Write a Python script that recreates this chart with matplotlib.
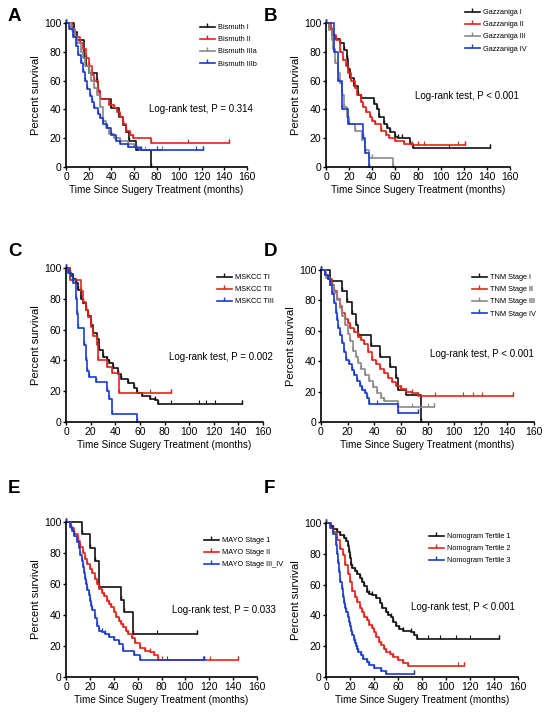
import numpy as np
import matplotlib
matplotlib.use("Agg")
import matplotlib.pyplot as plt

plt.rcParams['font.family'] = ['Liberation Sans', 'DejaVu Sans']

# ---- A: Bismuth ----
bis1_t = [0, 7, 10, 16, 18, 20, 27, 28, 30, 40, 47, 50, 53, 56, 62, 75]
bis1_s = [100, 94, 88, 76, 70, 65, 59, 53, 47, 41, 35, 29, 24, 18, 12, 0]
bis2_t = [0, 5, 8, 12, 15, 18, 20, 23, 25, 28, 30, 38, 42, 45, 48, 50, 53, 57, 59, 75, 144]
bis2_s = [100, 95, 90, 86, 82, 76, 70, 64, 60, 52, 47, 43, 41, 38, 35, 30, 25, 22, 20, 17, 17]
bis2_c = [108, 144]
bis3a_t = [0, 4, 8, 10, 13, 15, 17, 20, 22, 25, 27, 30, 33, 35, 38, 42, 48, 55, 60, 65, 85]
bis3a_s = [100, 96, 90, 86, 80, 76, 70, 65, 60, 55, 50, 42, 32, 27, 23, 20, 18, 16, 14, 12, 12]
bis3a_c = [70, 80, 85]
bis3b_t = [0, 3, 6, 9, 11, 13, 15, 17, 19, 21, 23, 25, 28, 30, 33, 36, 40, 44, 48, 55, 62, 66, 121]
bis3b_s = [100, 96, 90, 84, 78, 72, 66, 60, 54, 49, 45, 41, 37, 34, 30, 27, 22, 18, 16, 14, 13, 12, 12]
bis3b_c = [80, 115, 121]

# ---- B: Gazzaniga ----
gaz1_t = [0, 3, 5, 8, 12, 16, 18, 19, 21, 24, 28, 30, 42, 44, 46, 50, 53, 56, 60, 63, 66, 73, 76, 143]
gaz1_s = [100, 96, 92, 89, 86, 81, 75, 68, 62, 56, 50, 48, 44, 40, 35, 30, 27, 24, 21, 20, 20, 16, 13, 13]
gaz1_c = [107, 143]
gaz2_t = [0, 4, 6, 9, 12, 15, 17, 19, 22, 25, 27, 30, 32, 35, 38, 40, 43, 48, 52, 55, 60, 68, 75, 80, 121]
gaz2_s = [100, 96, 92, 88, 80, 74, 70, 65, 60, 55, 50, 45, 42, 38, 35, 32, 30, 25, 22, 20, 18, 16, 15, 15, 15]
gaz2_c = [85, 115, 121]
gaz3_t = [0, 3, 5, 6, 8, 10, 12, 14, 16, 18, 20, 25, 31, 34, 37, 40, 58]
gaz3_s = [100, 95, 88, 82, 72, 65, 58, 50, 42, 35, 30, 25, 19, 12, 6, 6, 0]
gaz4_t = [0, 7, 10, 14, 19, 32, 34, 37]
gaz4_s = [100, 80, 60, 40, 30, 20, 10, 0]

# ---- C: MSKCC ----
msk1_t = [0, 3, 6, 8, 10, 12, 14, 16, 18, 20, 22, 25, 27, 30, 33, 35, 38, 42, 45, 50, 55, 58, 62, 68, 72, 75, 143]
msk1_s = [100, 96, 93, 90, 86, 80, 77, 73, 69, 63, 58, 54, 47, 42, 40, 38, 35, 31, 28, 25, 22, 19, 17, 15, 14, 12, 12]
msk1_c = [85, 108, 114, 121, 143]
msk2_t = [0, 3, 12, 14, 16, 18, 20, 22, 25, 26, 33, 37, 43, 85]
msk2_s = [100, 92, 85, 78, 73, 68, 62, 56, 50, 40, 36, 32, 19, 19]
msk2_c = [68, 85]
msk3_t = [0, 2, 4, 6, 8, 9, 10, 15, 16, 17, 19, 24, 33, 35, 37, 58]
msk3_s = [100, 97, 95, 90, 80, 70, 61, 50, 40, 33, 29, 26, 20, 15, 5, 0]

# ---- D: TNM ----
tnm1_t = [0, 7, 16, 19.5, 23, 26, 28, 37.5, 44, 52, 56, 58, 64, 75]
tnm1_s = [100, 93, 86, 79, 71, 64, 57, 50, 43, 36, 29, 21, 18, 0]
tnm2_t = [0, 3, 5, 8, 10, 12, 14, 16, 18, 20, 22, 25, 28, 30, 32, 35, 38, 41, 44, 47, 50, 53, 56, 60, 64, 68, 73, 144]
tnm2_s = [100, 97, 94, 90, 86, 81, 76, 72, 68, 65, 62, 59, 56, 54, 51, 46, 41, 38, 35, 32, 29, 26, 24, 22, 20, 19, 17, 17]
tnm2_c = [86, 107, 114, 121, 144]
tnm3_t = [0, 4, 7, 10, 12, 14, 16, 18, 20, 22, 24, 26, 28, 30, 33, 36, 39, 42, 45, 47, 58, 85]
tnm3_s = [100, 95, 90, 85, 80, 75, 70, 64, 58, 53, 47, 43, 39, 35, 31, 27, 23, 19, 16, 14, 10, 10]
tnm3_c = [68, 80, 85]
tnm4_t = [0, 3, 5, 7, 8, 9.5, 11, 12, 13, 14.5, 16, 17, 19, 21, 23, 24.5, 27, 29.5, 31, 33, 34.5, 36, 58, 73]
tnm4_s = [100, 97, 94, 90, 84, 78, 72, 67, 62, 57, 52, 46, 41, 38, 34, 31, 27, 24, 21, 19, 16, 12, 6, 6]
tnm4_c = [42, 73]

# ---- E: MAYO ----
mayo1_t = [0, 13, 20, 24, 28, 46, 49, 56, 110]
mayo1_s = [100, 92, 83, 75, 58, 50, 42, 28, 28]
mayo1_c = [76, 110]
mayo2_t = [0, 4, 7, 10, 12, 14, 16, 18, 20, 22, 24, 26, 28, 30, 32, 34, 36, 38, 40, 42, 44, 46, 48, 50, 52, 55, 58, 62, 66, 70, 74, 77, 144]
mayo2_s = [100, 96, 92, 88, 84, 80, 76, 73, 70, 67, 63, 60, 57, 54, 52, 49, 47, 45, 42, 39, 36, 34, 32, 30, 28, 25, 22, 19, 17, 16, 14, 11, 11]
mayo2_c = [80, 115, 121, 144]
mayo3_t = [0, 3, 5, 7, 9, 11, 12, 13, 14, 15, 16, 17, 18, 19, 20, 21, 22, 24, 26, 28, 30, 33, 36, 40, 44, 48, 57, 62, 116]
mayo3_s = [100, 97, 94, 91, 87, 83, 79, 75, 71, 67, 63, 60, 56, 53, 49, 46, 43, 38, 33, 30, 29, 28, 26, 24, 21, 17, 14, 11, 11]
mayo3_c = [85, 116]

# ---- F: Nomogram ----
ter1_t = [0, 3, 6, 9, 12, 15, 17, 18, 19, 20, 21, 22, 24, 26, 28, 30, 32, 34, 36, 38, 42, 45, 47, 50, 52, 54, 56, 58, 61, 64, 71, 73, 76, 144]
ter1_s = [100, 98, 96, 94, 92, 90, 88, 85, 81, 77, 73, 71, 69, 67, 64, 62, 59, 55, 54, 53, 51, 48, 45, 42, 40, 39, 36, 33, 31, 30, 29, 27, 25, 25]
ter1_c = [85, 95, 108, 120, 144]
ter2_t = [0, 3, 6, 9, 12, 14, 16, 18, 20, 22, 24, 26, 28, 30, 32, 34, 36, 38, 40, 42, 44, 46, 48, 50, 53, 56, 60, 64, 68, 115]
ter2_s = [100, 97, 94, 89, 83, 79, 73, 67, 62, 56, 52, 49, 45, 42, 39, 37, 34, 32, 29, 26, 23, 21, 18, 16, 15, 13, 11, 9, 7, 7]
ter2_c = [110, 115]
ter3_t = [0, 4, 6, 8, 9, 10, 11, 12, 13, 14, 15, 16, 17, 18, 19, 20, 21, 22, 23, 24, 25, 26, 27, 29, 31, 34, 36, 40, 46, 50, 73]
ter3_s = [100, 97, 93, 86, 80, 74, 68, 62, 57, 52, 48, 45, 42, 39, 36, 33, 30, 27, 24, 22, 20, 18, 16, 14, 12, 10, 8, 6, 4, 2, 2]
ter3_c = [73]

BLACK = '#111111'
RED = '#e4231c'
GRAY = '#8a8a8a'
BLUE = '#1a3ccc'

W, H = 544, 712
fig = plt.figure(figsize=(W / 100, H / 100), dpi=100)


def make_ax(x0, y0, x1, y1):
    ax = fig.add_axes([x0 / W, 1 - y1 / H, (x1 - x0) / W, (y1 - y0) / H])
    ax.set_xlim(0, 160)
    ax.set_ylim(0, 100)
    ax.set_xticks(range(0, 161, 20))
    ax.set_yticks(range(0, 101, 20))
    for sp in ['top', 'right']:
        ax.spines[sp].set_visible(False)
    for sp in ['left', 'bottom']:
        ax.spines[sp].set_linewidth(1.2)
    ax.tick_params(direction='out', length=2.5, width=1.0, labelsize=7.5, pad=1)
    ax.set_xlabel('Time Since Sugery Treatment (months)', fontsize=7.2, labelpad=2)
    ax.set_ylabel('Percent survival', fontsize=8, labelpad=2)
    return ax


def km(ax, t, s, color, label, cens=None):
    ax.plot(t, s, drawstyle='steps-post', color=color, lw=1.2, clip_on=False,
            label=label, marker=2, markevery=[], ms=3)
    if cens:
        idx = np.searchsorted(t, cens, side='right') - 1
        ax.plot(cens, np.array(s)[idx], ls='none', marker=2, ms=3, mew=0.8,
                color=color, clip_on=False)


def legend(ax, x, y):
    handles, labels = ax.get_legend_handles_labels()
    for h in handles:
        h.set_markevery(None)
    fig.legend(handles, labels, loc='upper left', bbox_to_anchor=(x / W, 1 - y / H),
               frameon=False, fontsize=5.3, handlelength=2.0, handletextpad=0.5,
               labelspacing=0.68, borderpad=0, borderaxespad=0, numpoints=1)


def letter(x, y, s):
    fig.text(x / W, 1 - y / H, s, fontsize=13.5, fontweight='bold', va='top', ha='left')


# A
ax = make_ax(66, 23, 247, 167)
km(ax, bis1_t, bis1_s, BLACK, 'Bismuth I')
km(ax, bis2_t, bis2_s, RED, 'Bismuth II', bis2_c)
km(ax, bis3a_t, bis3a_s, GRAY, 'Bismuth IIIa', bis3a_c)
km(ax, bis3b_t, bis3b_s, BLUE, 'Bismuth IIIb', bis3b_c)
ax.text(73, 40, 'Log-rank test, P = 0.314', fontsize=7, va='center', clip_on=False)
legend(ax, 200, 24)
letter(8, 8, 'A')

# B
ax = make_ax(326, 23, 510, 167)
km(ax, gaz1_t, gaz1_s, BLACK, 'Gazzaniga I', gaz1_c)
km(ax, gaz2_t, gaz2_s, RED, 'Gazzaniga II', gaz2_c)
km(ax, gaz3_t, gaz3_s, GRAY, 'Gazzaniga III')
km(ax, gaz4_t, gaz4_s, BLUE, 'Gazzaniga IV')
ax.text(77, 49, 'Log-rank test, P < 0.001', fontsize=7, va='center', clip_on=False)
legend(ax, 465, 9)
letter(264, 8, 'B')

# C
ax = make_ax(66, 268, 263, 422)
km(ax, msk1_t, msk1_s, BLACK, 'MSKCC TI', msk1_c)
km(ax, msk2_t, msk2_s, RED, 'MSKCC TII', msk2_c)
km(ax, msk3_t, msk3_s, BLUE, 'MSKCC TIII')
ax.text(84, 42.5, 'Log-rank test, P = 0.002', fontsize=7, va='center', clip_on=False)
legend(ax, 217, 274)
letter(8, 243, 'C')

# D
ax = make_ax(321, 270, 534, 422)
km(ax, tnm1_t, tnm1_s, BLACK, 'TNM Stage I')
km(ax, tnm2_t, tnm2_s, RED, 'TNM Stage II', tnm2_c)
km(ax, tnm3_t, tnm3_s, GRAY, 'TNM Stage III', tnm3_c)
km(ax, tnm4_t, tnm4_s, BLUE, 'TNM Stage IV', tnm4_c)
ax.text(82, 45, 'Log-rank test, P < 0.001', fontsize=7, va='center', clip_on=False)
legend(ax, 472, 274)
letter(264, 243, 'D')

# E
ax = make_ax(66, 522, 257, 677)
km(ax, mayo1_t, mayo1_s, BLACK, 'MAYO Stage 1', mayo1_c)
km(ax, mayo2_t, mayo2_s, RED, 'MAYO Stage II', mayo2_c)
km(ax, mayo3_t, mayo3_s, BLUE, 'MAYO Stage III_IV', mayo3_c)
ax.text(89, 43, 'Log-rank test, P = 0.033', fontsize=7, va='center', clip_on=False)
legend(ax, 204, 537)
letter(8, 480, 'E')

# F
ax = make_ax(326, 523, 518, 677)
km(ax, ter1_t, ter1_s, BLACK, 'Nomogram Tertile 1', ter1_c)
km(ax, ter2_t, ter2_s, RED, 'Nomogram Tertile 2', ter2_c)
km(ax, ter3_t, ter3_s, BLUE, 'Nomogram Tertile 3', ter3_c)
ax.text(70.5, 45.5, 'Log-rank test, P < 0.001', fontsize=7, va='center', clip_on=False)
legend(ax, 429, 533)
letter(264, 480, 'F')

fig.savefig('out.png', dpi=100)
